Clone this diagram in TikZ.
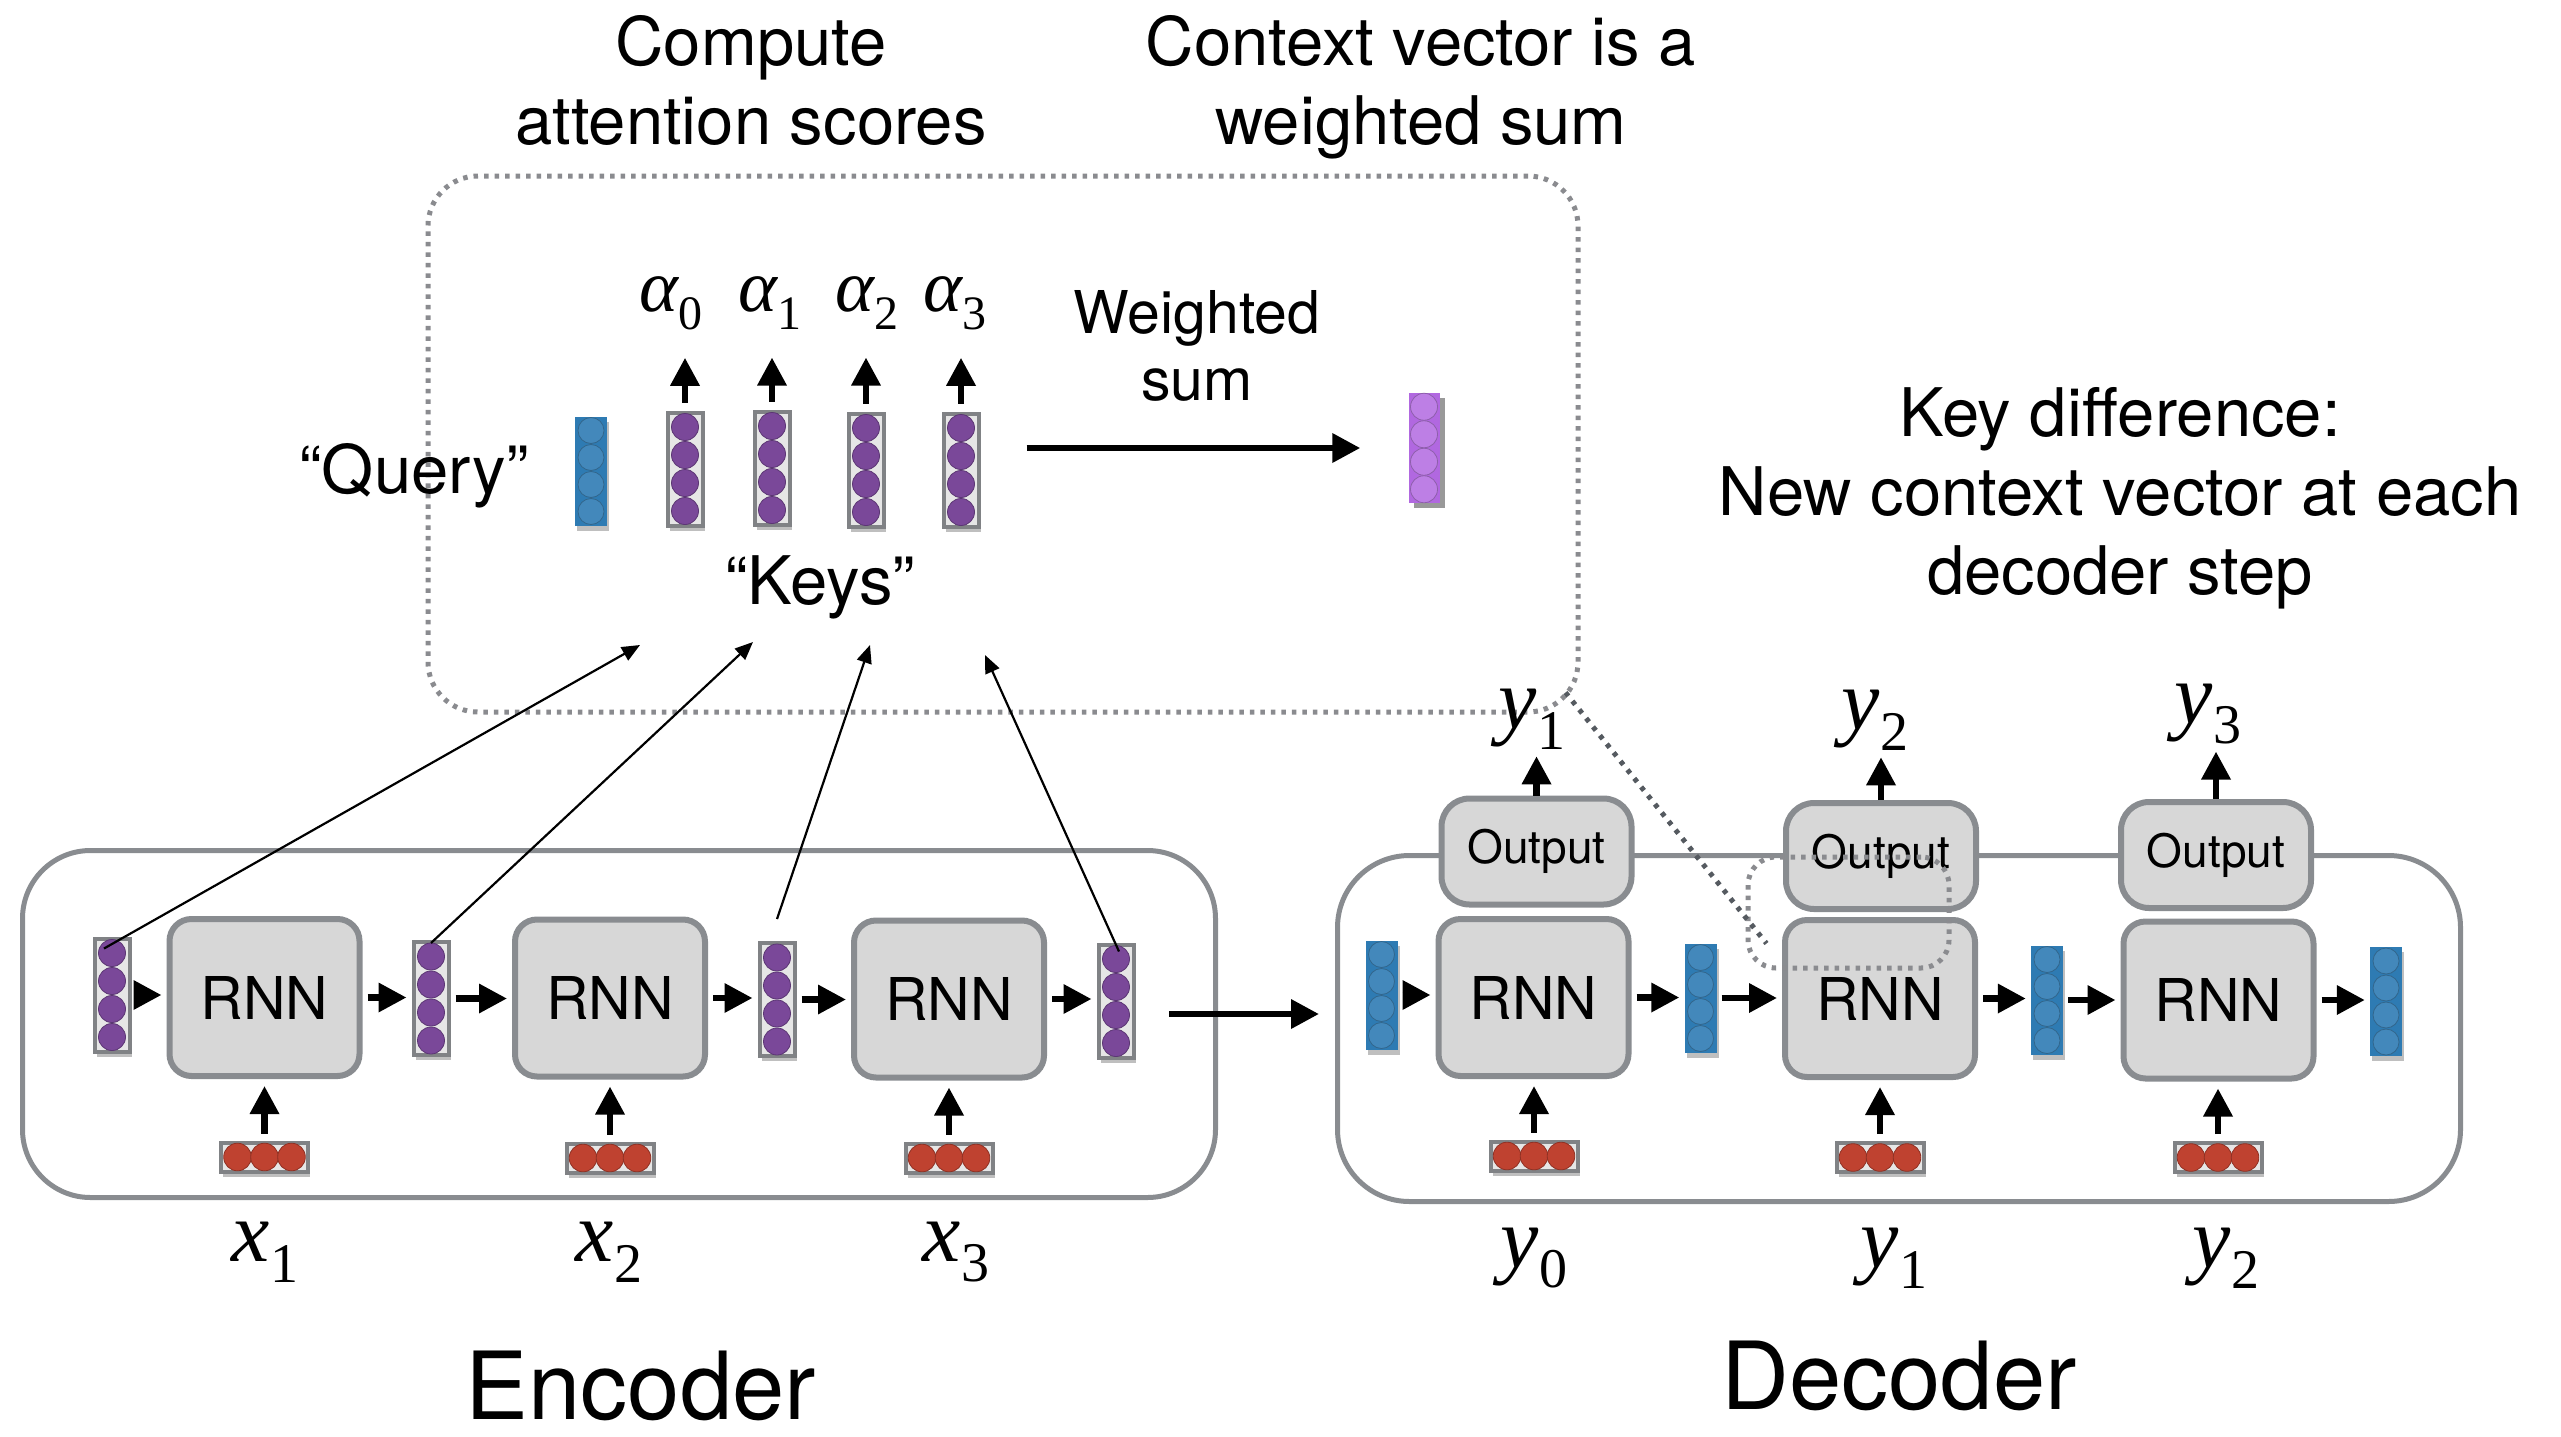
\documentclass[tikz,border=0pt]{standalone}
\usepackage{fontspec}
\setmainfont{TeX Gyre Heros}
\newfontfamily\tms{Liberation Serif}
\usetikzlibrary{arrows.meta,calc,shadows}

\definecolor{boxfill}{HTML}{D7D7D7}
\definecolor{edge}{HTML}{898C90}
\definecolor{dotc}{HTML}{8A8B8F}
\definecolor{dotdark}{HTML}{555A60}
\definecolor{hpurple}{HTML}{7A4899}
\definecolor{cpurple}{HTML}{B168E0}
\definecolor{sblue}{HTML}{2E7BB3}
\definecolor{xred}{HTML}{BF4230}
\definecolor{framec}{HTML}{808285}
\definecolor{frameins}{HTML}{E6E6E6}

% italic Times-like symbol with a lowered upright subscript
\newcommand\mlab[3]{{\tms\itshape #1}\raisebox{-0.24em}{\tms\fontsize{#3}{#3}\selectfont #2}}
% circles stacked inside a vector node (vertical / horizontal)
\newcommand\colstack[5]{\foreach \k in {1,...,#2}{\fill[#5, draw=#5!75!black, line width=0.8pt] ($(#1.center)+(0,{(\k-(#2+1)/2)*#3})$) circle[radius=#4];}}
\newcommand\rowstack[5]{\foreach \k in {1,...,#2}{\fill[#5, draw=#5!75!black, line width=0.8pt] ($(#1.center)+({(\k-(#2+1)/2)*#3},0)$) circle[radius=#4];}}

\begin{document}
\begin{tikzpicture}[x=1pt,y=-1pt,
  every node/.style={inner sep=0pt},
  txt/.style={align=center, font=\fontsize{67}{79}\selectfont},
  cell/.style={draw=edge, fill=boxfill, line width=6pt, rounded corners=22pt, minimum width=190pt, minimum height=157pt, font=\fontsize{59}{59}\selectfont},
  outcell/.style={cell, rounded corners=28pt, minimum height=106pt, font=\fontsize{46}{46}\selectfont},
  group/.style={draw=edge, line width=5pt, rounded corners=68pt},
  dotbox/.style={draw=dotc, line width=5pt, dash pattern=on 4.5pt off 6pt},
  diagdot/.style={draw=dotdark, line width=5pt, dash pattern=on 4.5pt off 6.5pt},
  vshadow/.style={drop shadow={shadow xshift=2pt, shadow yshift=-5pt, opacity=0.25, fill=black}},
  hvec/.style={draw=framec, fill=frameins, line width=4pt, minimum width=35pt, minimum height=113pt, vshadow},
  svec/.style={fill=sblue, minimum width=32pt, minimum height=109pt, vshadow},
  cvec/.style={fill=cpurple, minimum width=31pt, minimum height=110pt, drop shadow={shadow xshift=5pt, shadow yshift=-5pt, opacity=0.4, fill=black}},
  xvec/.style={draw=framec, fill=frameins, line width=4pt, minimum width=87pt, minimum height=29pt, vshadow},
  arr/.style={line width=6.5pt, -{Triangle[length=28pt,width=28pt]}, shorten <=5pt, shorten >=5pt},
  thinarr/.style={line width=2.2pt, -{Triangle[length=18pt,width=15pt]}},
  alab/.style={font=\fontsize{74}{74}\selectfont},
  vlab/.style={font=\fontsize{86}{86}\selectfont},
  big/.style={font=\fontsize{94}{94}\selectfont}
]
\useasboundingbox (0,0) rectangle (2561,1437);

% ---------- attention block ----------
\node[dotbox, rounded corners=50pt, minimum width=1150pt, minimum height=536pt] (att) at (1003,444) {};

\node[txt] (hdA) at (751,80) {Compute\\attention scores};
\node[txt] (hdB) at (1421,87) {Context vector is a\\weighted sum};
\node[txt] (note) at (2120,498) {Key difference:\\New context vector at each\\decoder step};

\node[txt] (qlab) at (414,476) {“Query”};
\node[txt] (klab) at (820,587) {“Keys”};
\node[txt, font=\fontsize{59}{67}\selectfont] (wlab) at (1197,346) {Weighted\\sum};

\node[svec] (q) at (591,471) {};
\colstack{q}{4}{27}{13pt}{sblue!90!white}

\foreach \n/\x/\y/\ax in {0/685/469/671, 1/772/468/770, 2/866/470/867, 3/961/470/955}{
  \node[hvec] (k\n) at (\x,\y) {};
  \colstack{k\n}{4}{28}{13.5pt}{hpurple}
  \node[alab] (al\n) at (\ax,303) {\mlab{α}{\n}{48}};
  \draw[arr, shorten <=8pt, shorten >=28pt] (k\n.north) -- (k\n.north |- al\n.south);
}

\node[cvec] (ctx) at (1424,448) {};
\colstack{ctx}{4}{27.5}{13.5pt}{cpurple!85!white}
\draw[arr, shorten <=46pt, shorten >=48pt] (ctx.west -| k3.east) -- (ctx.west);

% ---------- encoder ----------
\node[group, minimum width=1193pt, minimum height=347pt] (enc) at (619,1024) {};

\node[cell] (e1) at (264.5,997.5) {RNN};
\node[cell] (e2) at (610,998) {RNN};
\node[cell] (e3) at (949,999) {RNN};

\foreach \n/\x/\y in {0/112/995, 1/431/998.5, 2/777/999.5, 3/1116/1001}{
  \node[hvec] (h\n) at (\x,\y) {};
  \colstack{h\n}{4}{28}{13.5pt}{hpurple}
}

\foreach \n/\x/\y/\lx in {1/264.5/1157/265, 2/610/1158/609, 3/949/1158/956}{
  \node[xvec] (xv\n) at (\x,\y) {};
  \rowstack{xv\n}{3}{27}{13.8pt}{xred}
  \node[vlab] (lx\n) at (\lx,1252) {\mlab{x}{\n}{56}};
  \draw[arr, shorten <=7pt, shorten >=7pt] (xv\n.north) -- (xv\n.north |- e\n.south);
}

\draw[arr] (h0.east) -- (h0.east -| e1.west);
\draw[arr] (e1.east) -- (e1.east -| h1.west);
\draw[arr] (h1.east) -- (h1.east -| e2.west);
\draw[arr] (e2.east) -- (e2.east -| h2.west);
\draw[arr] (h2.east) -- (h2.east -| e3.west);
\draw[arr] (e3.east) -- (e3.east -| h3.west);

% encoder states feed the attention scores
\coordinate (a0) at (640,645);
\coordinate (a1) at (753,642);
\coordinate (a2) at (870,645);
\coordinate (a3) at (985,655);
\draw[thinarr] ([xshift=-8pt,yshift=-12pt]h0.north) -- (a0);
\draw[thinarr] ([yshift=-3pt]h1.north) -- (a1);
\draw[thinarr] ([yshift=22pt]h2.north) -- (a2);
\draw[thinarr] ([xshift=3pt,yshift=-9pt]h3.north) -- (a3);

% ---------- decoder ----------
\node[group, rounded corners=72pt, minimum width=1123pt, minimum height=346pt] (dec) at (1899,1028.5) {};

\draw[arr, shorten <=0pt, shorten >=0pt] ([xshift=-49pt,yshift=10pt]enc.east) -- ([xshift=-16pt,yshift=14.5pt]dec.west);

\node[outcell] (o1) at (1536.5,851.5) {Output};
\node[outcell] (o2) at (1881,856) {Output};
\node[outcell] (o3) at (2216,855) {Output};

\node[cell] (d1) at (1533.5,997.5) {RNN};
\node[cell] (d2) at (1880,998.5) {RNN};
\node[cell] (d3) at (2218.5,1000) {RNN};

\foreach \n/\x/\y in {0/1381.5/995, 1/1700.5/998, 2/2047/1000, 3/2386/1001.5}{
  \node[svec] (s\n) at (\x,\y) {};
  \colstack{s\n}{4}{27}{13pt}{sblue!90!white}
}

\foreach \n/\m/\x/\y/\lx in {0/1/1534/1156/1534, 1/2/1880/1157.5/1894, 2/3/2218/1157.5/2226}{
  \node[xvec] (yv\n) at (\x,\y) {};
  \rowstack{yv\n}{3}{27}{13.8pt}{xred}
  \node[vlab] (ly\n) at (\lx,1258) {\mlab{y}{\n}{56}};
  \draw[arr, shorten <=7pt, shorten >=7pt] (yv\n.north) -- (yv\n.north |- d\m.south);
}

\node[vlab] (ty1) at (1532,719) {\mlab{y}{1}{56}};
\node[vlab] (ty2) at (1875,720) {\mlab{y}{2}{56}};
\node[vlab] (ty3) at (2208,714) {\mlab{y}{3}{56}};
\draw[arr, shorten <=0pt, shorten >=7pt] (o1.north) -- (o1.north |- ty1.south);
\draw[arr, shorten <=0pt, shorten >=7pt] (o2.north) -- (o2.north |- ty2.south);
\draw[arr, shorten <=0pt, shorten >=7pt] (o3.north) -- (o3.north |- ty3.south);

\draw[arr] (s0.east) -- (s0.east -| d1.west);
\draw[arr] (d1.east) -- (d1.east -| s1.west);
\draw[arr] (s1.east) -- (s1.east -| d2.west);
\draw[arr] (d2.east) -- (d2.east -| s2.west);
\draw[arr] (s2.east) -- (s2.east -| d3.west);
\draw[arr] (d3.east) -- (d3.east -| s3.west);

% the attention result is used by the current decoder step
\node[dotbox, rounded corners=28pt, minimum width=201pt, minimum height=111pt] (sel) at (1848.5,912.5) {};
\draw[diagdot] ([xshift=-15pt,yshift=22pt]att.south east) -- ([xshift=21pt,yshift=27pt]sel.south west);

% ---------- captions ----------
\node[big] (encl) at (641,1386) {Encoder};
\node[big] (decl) at (1899,1376) {Decoder};
\end{tikzpicture}
\end{document}
